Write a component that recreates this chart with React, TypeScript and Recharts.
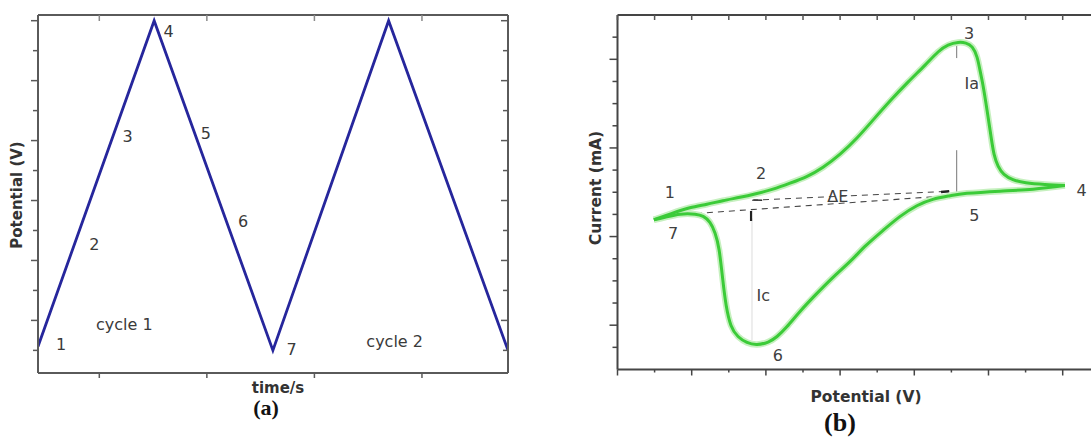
import { LineChart, Line, XAxis, YAxis, ReferenceDot } from "recharts";

// ---- (a) triangular potential sweep ----
const sweepTime = [0.43, 1.51, 2.614, 3.69, 4.8];
const sweepPotential = [0.013, 1.1, 0, 1.1, 0];
const sweepTimeTicks = [1, 2, 3, 4];
const sweepPotentialTicks = [0, 0.1, 0.2, 0.3, 0.4, 0.5, 0.6, 0.7, 0.8, 0.9, 1.0, 1.1];
const sweepNoteText = ["1", "2", "3", "4", "5", "6", "7", "cycle 1", "cycle 2"];
const sweepNoteTime = [0.645, 0.954, 1.263, 1.644, 1.99, 2.336, 2.788, 1.232, 3.746];
const sweepNotePotential = [0.019, 0.354, 0.715, 1.063, 0.724, 0.43, 0.002, 0.086, 0.03];

// ---- (b) cyclic voltammogram ----
// forward (anodic) scan, 7 -> 1 -> 2 -> 3 -> 4
const anodicE = [
  0.98, 1.47, 1.95, 2.41, 2.84, 3.3, 3.73, 4.19, 4.65, 5.11, 5.54, 6.0, 6.46, 6.91, 7.37, 7.83, 8.29,
  8.64, 8.91, 9.18, 9.39, 9.56, 9.69, 9.77, 9.85, 9.96, 10.07, 10.15, 10.26, 10.42, 10.66, 11.01,
  11.52, 12.06,
];
const anodicI = [
  -1.24, -0.95, -0.7, -0.54, -0.38, -0.23, -0.07, 0.14, 0.41, 0.72, 1.13, 1.72, 2.46, 3.3, 4.16,
  4.97, 5.74, 6.33, 6.64, 6.76, 6.73, 6.55, 6.1, 5.51, 4.84, 3.71, 2.49, 1.72, 1.18, 0.81, 0.57,
  0.43, 0.35, 0.3,
];
// reverse (cathodic) scan, 4 -> 5 -> 6 -> 7
const cathodicE = [
  12.06, 11.2, 10.31, 9.42, 8.96, 8.5, 8.07, 7.62, 7.16, 6.7, 6.27, 5.81, 5.35, 4.92, 4.57, 4.3,
  4.06, 3.76, 3.49, 3.25, 3.06, 2.93, 2.84, 2.74, 2.63, 2.49, 2.31, 2.09, 1.69, 1.28, 0.98,
];
const cathodicI = [
  0.3, 0.14, 0.05, -0.05, -0.16, -0.32, -0.61, -1.09, -1.72, -2.4, -3.12, -3.84, -4.61, -5.38,
  -6.06, -6.51, -6.76, -6.87, -6.78, -6.51, -6.01, -5.11, -3.98, -2.62, -1.85, -1.36, -1.09, -0.99,
  -0.99, -1.13, -1.24,
];
const potentialTicks = [0, 1, 2, 3, 4, 5, 6, 7, 8, 9, 10, 11, 12];
const currentTicks = [-7, -6, -5, -4, -3, -2, -1, 0, 1, 2, 3, 4, 5, 6, 7];

// construction lines: [E1, I1, E2, I2]
const deltaELine = [3.625, -0.362, 8.962, 0.045];
const baseLine = [1.819, -0.994, 9.097, -0.136];
const iaTop = [9.143, 6.644, 9.143, 6.056];
const iaBottom = [9.143, 1.898, 9.143, -0.09];
const icLine = [3.625, -1.175, 3.625, -6.689];
const arrowRight = [8.72, 0.01, 8.94, 0.04];
const arrowLeft = [3.66, -0.35, 3.9, -0.36];
const icFoot = [3.6, -0.85, 3.6, -1.3];

const cvNoteText = ["1", "2", "3", "4", "5", "6", "7", "Ia", "Ic", "ΔE"];
const cvNoteE = [1.41, 3.87, 9.48, 12.51, 9.62, 4.32, 1.5, 9.55, 3.93, 5.94];
const cvNoteI = [0.01, 0.85, 7.17, 0.09, -1.04, -7.37, -1.87, 4.93, -4.66, -0.18];

const sweep = sweepTime.map((t, k) => ({ t, v: sweepPotential[k] }));
const anodic = anodicE.map((e, k) => ({ e, i: anodicI[k] }));
const cathodic = cathodicE.map((e, k) => ({ e, i: cathodicI[k] })).reverse();
const seg = (s: number[]) => [
  { e: s[0], i: s[1] },
  { e: s[2], i: s[3] },
];

const sans = "DejaVu Sans, Verdana, sans-serif";

// ticks drawn by hand so each one can have its own length
const tickMark =
  (len: (v: number) => number, vertical: boolean, stroke: string) => (props: any) => {
    const { x, y, payload } = props;
    const l = len(payload.value);
    return vertical ? (
      <line x1={x} y1={y} x2={x} y2={y + l} stroke={stroke} strokeWidth={1.5} />
    ) : (
      <line x1={x} y1={y} x2={x - l} y2={y} stroke={stroke} strokeWidth={1.5} />
    );
  };

const title = (text: string, x: number, y: number, angle = 0, size = 15) => () =>
  (
    <text
      x={x}
      y={y}
      transform={angle ? `rotate(${angle}, ${x}, ${y})` : undefined}
      textAnchor="middle"
      dominantBaseline="central"
      fontFamily={sans}
      fontWeight="bold"
      fontSize={size}
      fill="#333"
    >
      {text}
    </text>
  );

const axisA = { stroke: "#5a5a5a", strokeWidth: 2 };
const axisB = { stroke: "#454545", strokeWidth: 2 };
const oddTenth = (v: number) => (Math.round(v * 10) % 2 === 1 ? 7 : 5);

function SweepChart() {
  return (
    <LineChart width={540} height={441} margin={{ top: 13, right: 30, bottom: 38, left: 8 }}>
      <XAxis
        xAxisId="bottom"
        dataKey="t"
        type="number"
        domain={[0.43, 4.8]}
        allowDataOverflow
        ticks={sweepTimeTicks}
        interval={0}
        height={30}
        tickSize={0}
        tickMargin={0}
        tickLine={false}
        tick={tickMark(() => 5, true, "#5a5a5a")}
        axisLine={axisA}
        label={title("time/s", 278, 388)}
      />
      <XAxis
        xAxisId="top"
        orientation="top"
        dataKey="t"
        type="number"
        domain={[0.43, 4.8]}
        allowDataOverflow
        ticks={sweepTimeTicks}
        interval={0}
        height={2}
        tickSize={0}
        tickMargin={0}
        tickLine={false}
        tick={tickMark(() => 6, true, "#8a8a8a")}
        axisLine={axisA}
      />
      <YAxis
        yAxisId="left"
        type="number"
        domain={[-0.0755, 1.119]}
        allowDataOverflow
        ticks={sweepPotentialTicks}
        interval={0}
        width={30}
        tickSize={0}
        tickMargin={0}
        tickLine={false}
        tick={tickMark(oddTenth, false, "#5a5a5a")}
        axisLine={axisA}
        label={title("Potential (V)", 17, 195, -90)}
      />
      <YAxis
        yAxisId="right"
        orientation="right"
        type="number"
        domain={[-0.0755, 1.119]}
        allowDataOverflow
        ticks={sweepPotentialTicks}
        interval={0}
        width={2}
        tickSize={0}
        tickMargin={0}
        tickLine={false}
        tick={tickMark(oddTenth, false, "#5a5a5a")}
        axisLine={axisA}
      />
      <Line
        xAxisId="top"
        yAxisId="right"
        data={sweep}
        dataKey="v"
        stroke="none"
        dot={false}
        activeDot={false}
        isAnimationActive={false}
      />
      <Line
        xAxisId="bottom"
        yAxisId="left"
        data={sweep}
        dataKey="v"
        type="linear"
        stroke="#26269c"
        strokeWidth={2.8}
        dot={false}
        activeDot={false}
        isAnimationActive={false}
      />
      {sweepNoteText.map((text, k) => (
        <ReferenceDot
          key={text}
          xAxisId="bottom"
          yAxisId="left"
          x={sweepNoteTime[k]}
          y={sweepNotePotential[k]}
          r={0}
          stroke="none"
          fill="none"
          ifOverflow="visible"
          label={{ value: text, position: "center", fill: "#3a3a3a", fontSize: 16, fontFamily: sans }}
        />
      ))}
    </LineChart>
  );
}

function VoltammogramChart() {
  const guide = (s: number[], stroke: string, width: number, dash?: string) => (
    <Line
      xAxisId="bottom"
      yAxisId="left"
      data={seg(s)}
      dataKey="i"
      type="linear"
      stroke={stroke}
      strokeWidth={width}
      strokeDasharray={dash}
      dot={false}
      activeDot={false}
      isAnimationActive={false}
    />
  );
  return (
    <LineChart width={531} height={441} margin={{ top: 13, right: 0, bottom: 41.5, left: 17.5 }}>
      <XAxis
        xAxisId="bottom"
        dataKey="e"
        type="number"
        domain={[0, 12.763]}
        allowDataOverflow
        ticks={potentialTicks}
        interval={0}
        height={30}
        tickSize={0}
        tickMargin={0}
        tickLine={false}
        tick={tickMark((v) => (v % 2 === 0 ? 6 : 3), true, "#454545")}
        axisLine={axisB}
        label={title("Potential (V)", 866 - 560, 397, 0, 15.5)}
      />
      <XAxis
        xAxisId="top"
        orientation="top"
        dataKey="e"
        type="number"
        domain={[0, 12.763]}
        allowDataOverflow
        ticks={potentialTicks}
        interval={0}
        height={2}
        tickSize={0}
        tickMargin={0}
        tickLine={false}
        tick={tickMark(() => 5, true, "#555")}
        axisLine={axisB}
      />
      <YAxis
        yAxisId="left"
        type="number"
        domain={[-8, 8]}
        allowDataOverflow
        ticks={currentTicks}
        interval={0}
        width={40}
        tickSize={0}
        tickMargin={0}
        tickLine={false}
        tick={tickMark((v) => (Math.abs(v) % 4 === 2 ? 8 : 5), false, "#454545")}
        axisLine={axisB}
        label={title("Current (mA)", 596 - 560, 188, -90, 15.5)}
      />
      <Line
        xAxisId="top"
        yAxisId="left"
        data={anodic}
        dataKey="i"
        stroke="none"
        dot={false}
        activeDot={false}
        isAnimationActive={false}
      />
      {guide(icLine, "#dcdcdc", 1)}
      {guide(iaTop, "#777", 1)}
      {guide(iaBottom, "#777", 1)}
      {guide(baseLine, "#444", 1.1, "6 5")}
      {guide(deltaELine, "#444", 1.1, "6 5")}
      {guide(arrowRight, "#222", 2.5)}
      {guide(arrowLeft, "#333", 1.6)}
      {guide(icFoot, "#222", 2.2)}
      {[anodic, cathodic].map((branch, k) => (
        <Line
          key={`halo${k}`}
          xAxisId="bottom"
          yAxisId="left"
          data={branch}
          dataKey="i"
          type="natural"
          stroke="#c6f0bf"
          strokeWidth={6.5}
          dot={false}
          activeDot={false}
          isAnimationActive={false}
        />
      ))}
      {[anodic, cathodic].map((branch, k) => (
        <Line
          key={`scan${k}`}
          xAxisId="bottom"
          yAxisId="left"
          data={branch}
          dataKey="i"
          type="natural"
          stroke="#3bcb38"
          strokeWidth={3}
          dot={false}
          activeDot={false}
          isAnimationActive={false}
        />
      ))}
      {cvNoteText.map((text, k) => (
        <ReferenceDot
          key={text}
          xAxisId="bottom"
          yAxisId="left"
          x={cvNoteE[k]}
          y={cvNoteI[k]}
          r={0}
          stroke="none"
          fill="none"
          ifOverflow="visible"
          label={{ value: text, position: "center", fill: "#404040", fontSize: 16, fontFamily: sans }}
        />
      ))}
    </LineChart>
  );
}

const caption = (text: string, cx: number, cy: number, size: number) => (
  <div
    style={{
      position: "absolute",
      left: cx - 40,
      top: cy - 0.6 * size,
      width: 80,
      textAlign: "center",
      fontFamily: "Liberation Serif, Times New Roman, serif",
      fontWeight: "bold",
      fontSize: size,
      lineHeight: `${size}px`,
      color: "#111",
    }}
  >
    {text}
  </div>
);

export default function App() {
  return (
    <div style={{ position: "absolute", left: 0, top: 0, width: 1091, height: 441, background: "#fff", overflow: "hidden" }}>
      <div style={{ position: "absolute", left: 0, top: 0 }}>
        <SweepChart />
      </div>
      <div style={{ position: "absolute", left: 560, top: 0 }}>
        <VoltammogramChart />
      </div>
      {caption("(a)", 266, 410, 22)}
      {caption("(b)", 840, 426, 26)}
    </div>
  );
}
